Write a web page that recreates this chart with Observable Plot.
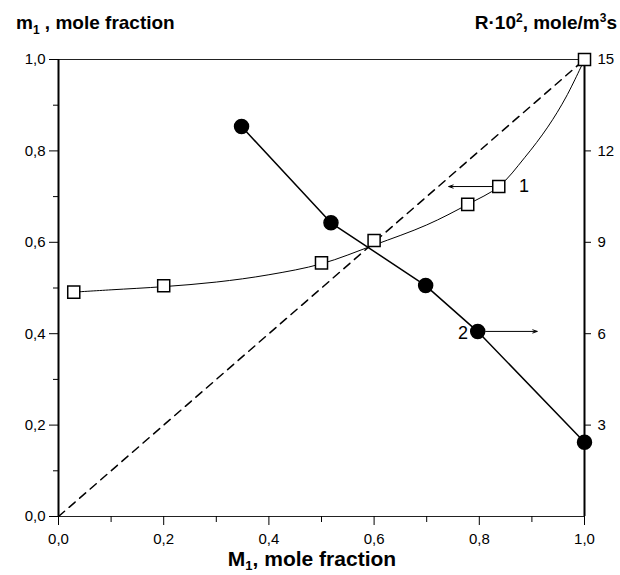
<!DOCTYPE html>
<html>
<head>
<meta charset="utf-8">
<script src="https://cdn.jsdelivr.net/npm/d3@7"></script>
<script src="https://cdn.jsdelivr.net/npm/@observablehq/plot@0.6"></script>
<style>
  html, body { margin: 0; padding: 0; background: #fff; }
  #chart { width: 620px; height: 575px; }
</style>
</head>
<body>
<div id="chart"></div>
<script>
// ---- data ----
const xTicks = [0, 0.2, 0.4, 0.6, 0.8, 1.0];
const xMinor = [0.1, 0.3, 0.5, 0.7, 0.9];
const yTicks = [0, 0.2, 0.4, 0.6, 0.8, 1.0];
const yMinor = [0.1, 0.3, 0.5, 0.7, 0.9];
const rTicks = [3, 6, 9, 12, 15];
const rMax = 15;

// curve 1: m1 (left axis) vs M1, open squares
const sqM1 = [0.029, 0.2, 0.5, 0.6, 0.778, 0.837, 1.0];
const sqm1 = [0.491, 0.505, 0.555, 0.604, 0.683, 0.722, 1.0];

// fitted curve 1
const fitM1 = [0.029, 0.1, 0.2, 0.3, 0.4, 0.5, 0.6, 0.7, 0.778, 0.837, 0.886, 0.93, 0.965, 1.0];
const fitm1 = [0.491, 0.496, 0.503, 0.513, 0.529, 0.553, 0.594, 0.638, 0.683, 0.722, 0.785, 0.852, 0.918, 1.0];

// curve 2: R·10^2 (right axis) vs M1, filled circles
const ciM1 = [0.348, 0.518, 0.698, 0.797, 1.0];
const ciR = [12.8, 9.64, 7.58, 6.07, 2.44];

// diagonal m1 = M1
const diagM1 = [0, 1];
const diagm1 = [0, 1];

// annotations
const labelText = ["1", "2"];
const labelM1 = [0.885, 0.769];
const labelm1 = [0.722, 0.401];
const arrowFrom = [0.826, 0.812];
const arrowTo = [0.742, 0.91];
const arrowm1 = [0.722, 0.405];

// ---- tables built from the arrays ----
const squares = sqM1.map((x, i) => ({x, y: sqm1[i]}));
const fit = fitM1.map((x, i) => ({x, y: fitm1[i]}));
const circles = ciM1.map((x, i) => ({x, r: ciR[i]}));
const diag = diagM1.map((x, i) => ({x, y: diagm1[i]}));
const labels = labelText.map((t, i) => ({t, x: labelM1[i], y: labelm1[i]}));
const arrows = arrowFrom.map((x1, i) => ({x1, x2: arrowTo[i], y: arrowm1[i]}));

const fmt = d => d.toFixed(1).replace(".", ",");
const font = "'Liberation Sans', Arial, sans-serif";

const chart = Plot.plot({
  width: 620,
  height: 575,
  marginLeft: 58,
  marginRight: 36,
  marginTop: 59,
  marginBottom: 59,
  style: {fontFamily: font, fontSize: "14px", color: "#000", background: "#fff"},
  x: {domain: [0, 1], label: null},
  y: {domain: [0, 1], label: null},
  marks: [
    // frame: top/bottom thin, left/right thick
    Plot.ruleY([0, 1], {stroke: "#222", strokeWidth: 1}),
    Plot.ruleX([0, 1], {stroke: "#000", strokeWidth: 2}),
    // axes
    Plot.axisX({ticks: xTicks, tickSize: 9, tickPadding: 8, tickFormat: fmt, label: null, fontSize: 15}),
    Plot.axisX({ticks: xMinor, tickSize: 6, tickFormat: () => "", label: null}),
    Plot.axisY({ticks: yTicks, tickSize: 9, tickPadding: 4, tickFormat: fmt, label: null, fontSize: 15}),
    Plot.axisY({ticks: yMinor, tickSize: 5, tickFormat: () => "", label: null}),
    Plot.axisY({anchor: "right", ticks: rTicks.map(r => r / rMax), tickSize: 6, tickPadding: 7,
                tickFormat: d => String(Math.round(d * rMax)), label: null, fontSize: 15}),
    // diagonal dashed line
    Plot.line(diag, {x: "x", y: "y", stroke: "#000", strokeWidth: 1.5, strokeDasharray: "8,6"}),
    // curve 1 (fitted line)
    Plot.line(fit, {x: "x", y: "y", curve: "catmull-rom", stroke: "#000", strokeWidth: 1}),
    // curve 2 through circles
    Plot.line(circles, {x: "x", y: d => d.r / rMax, stroke: "#000", strokeWidth: 1.5}),
    // arrows
    Plot.arrow(arrows, {x1: "x1", x2: "x2", y1: "y", y2: "y", stroke: "#000", strokeWidth: 1, headLength: 7, headAngle: 40}),
    // markers
    Plot.dot(squares, {x: "x", y: "y", symbol: "square", r: 6.8, fill: "#fff", stroke: "#000", strokeWidth: 1.5}),
    Plot.dot(circles, {x: "x", y: d => d.r / rMax, r: 7, fill: "#000", stroke: "#000"}),
    // curve labels
    Plot.text(labels, {x: "x", y: "y", text: "t", fontSize: 18, fill: "#000"})
  ]
});
document.getElementById("chart").appendChild(chart);

// axis titles (with subscripts / superscripts) added into the same SVG
const svg = d3.select(chart);
const t1 = svg.append("text").attr("x", 16).attr("y", 29).attr("text-anchor", "start")
  .attr("font-family", font).attr("font-size", 19).attr("font-weight", "bold").attr("fill", "#000");
t1.append("tspan").text("m");
t1.append("tspan").attr("font-size", 12).attr("dy", 5).text("1");
t1.append("tspan").attr("dy", -5).text(" , mole fraction");

const t2 = svg.append("text").attr("x", 617).attr("y", 29).attr("text-anchor", "end")
  .attr("font-family", font).attr("font-size", 19).attr("font-weight", "bold").attr("fill", "#000");
t2.append("tspan").text("R·10");
t2.append("tspan").attr("font-size", 12).attr("dy", -7).text("2");
t2.append("tspan").attr("dy", 7).text(", mole/m");
t2.append("tspan").attr("font-size", 12).attr("dy", -7).text("3");
t2.append("tspan").attr("dy", 7).text("s");

const t3 = svg.append("text").attr("x", 312).attr("y", 566).attr("text-anchor", "middle")
  .attr("font-family", font).attr("font-size", 21).attr("font-weight", "bold").attr("fill", "#000");
t3.append("tspan").text("M");
t3.append("tspan").attr("font-size", 13).attr("dy", 4).text("1");
t3.append("tspan").attr("dy", -4).text(", mole fraction");
</script>
</body>
</html>
